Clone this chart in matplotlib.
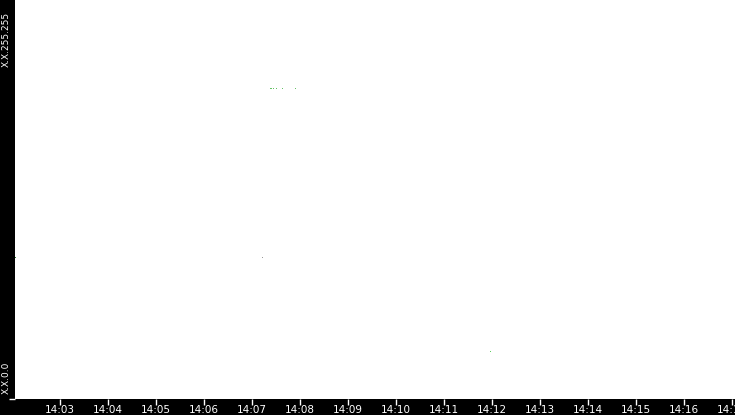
import matplotlib
matplotlib.use('Agg')
import matplotlib.pyplot as plt
import matplotlib.dates as mdates
import pandas as pd

# time of each packet and destination (last two octets of X.X.a.b)
times = ['14:02:04', '14:07:13', '14:07:23', '14:07:24', '14:07:26',
         '14:07:30', '14:07:38', '14:07:54', '14:11:58']
octet3 = [90, 90, 198, 198, 198, 198, 198, 198, 30]
octet4 = [119, 119, 228, 228, 228, 228, 228, 228, 40]
colors = ['#2e7d2e', '#9a9a9a', '#66c266', '#66c266', '#66c266',
          '#66c266', '#66c266', '#66c266', '#5ccf5c']

day = '2020-01-01 '
t = pd.to_datetime([day + s for s in times])
yv = [a * 256 + b for a, b in zip(octet3, octet4)]

fig = plt.figure(figsize=(7.35, 4.15), dpi=100, facecolor='black')
ax = fig.add_axes([15 / 735, 16 / 415, 720 / 735, 399 / 415])
ax.set_facecolor('white')
for sp in ax.spines.values():
    sp.set_visible(False)

for ti, yi, c in zip(t, yv, colors):
    ax.plot([ti], [yi], ',', color=c, clip_on=False)

ax.set_xlim(pd.Timestamp(day + '14:02:03.75'), pd.Timestamp(day + '14:17:03.75'))
ax.set_ylim(0, 65535)

ax.xaxis.set_major_locator(mdates.MinuteLocator())
ax.xaxis.set_major_formatter(mdates.DateFormatter('%H:%M'))
ax.tick_params(axis='x', colors='white', length=4, width=1, pad=0.5, labelsize=7.5)
ax.set_yticks([0])
ax.set_yticklabels([''])
ax.tick_params(axis='y', colors='white', length=4, width=1)

fig.text(6.5 / 735, 1 - 39 / 415, 'X.X.255.255', color='white', fontsize=6.5,
         rotation=90, ha='center', va='center')
fig.text(6.5 / 735, 1 - 378 / 415, 'X.X.0.0', color='white', fontsize=6.5,
         rotation=90, ha='center', va='center')

fig.savefig('out.png', dpi=100, facecolor='black')
